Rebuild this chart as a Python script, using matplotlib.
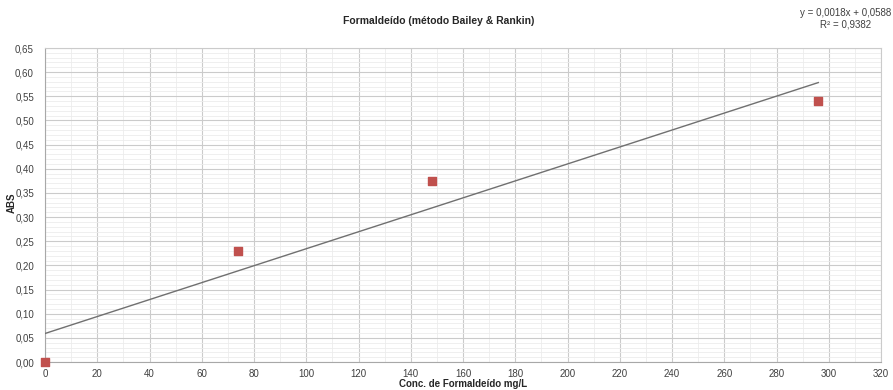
import numpy as np
import matplotlib
matplotlib.use("Agg")
import matplotlib.pyplot as plt
from matplotlib.ticker import MultipleLocator, FuncFormatter

plt.rcParams['font.family'] = ['Liberation Sans', 'DejaVu Sans']

conc = [0, 74, 148, 296]
abs_vals = [0.0, 0.23, 0.375, 0.54]
eq_lines = ["y = 0,0018x + 0,0588", "R² = 0,9382"]

slope, intercept = np.polyfit(conc, abs_vals, 1)

W, H = 893, 390
fig = plt.figure(figsize=(W / 100, H / 100), dpi=100)
ax = fig.add_axes([45 / W, (H - 362) / H, (881 - 45) / W, (362 - 48) / H])

ax.plot([conc[0], conc[-1]], [slope * conc[0] + intercept, slope * conc[-1] + intercept],
        color='#707070', lw=1.0, zorder=3)
ax.scatter(conc, abs_vals, marker='s', s=36, color='#C0504D', zorder=4, clip_on=False)

ax.set_xlim(0, 320)
ax.set_ylim(0, 0.65)
ax.xaxis.set_major_locator(MultipleLocator(20))
ax.xaxis.set_minor_locator(MultipleLocator(10))
ax.yaxis.set_major_locator(MultipleLocator(0.05))
ax.yaxis.set_minor_locator(MultipleLocator(0.01))
ax.yaxis.set_major_formatter(FuncFormatter(lambda v, p: f"{v:.2f}".replace('.', ',')))
ax.grid(which='major', color='#cbcbcb', lw=0.8)
ax.grid(which='minor', color='#ececec', lw=0.6)
ax.set_axisbelow(True)
ax.tick_params(which='both', length=0, labelsize=7, colors='#404040')
ax.tick_params(axis='x', pad=5)
ax.tick_params(axis='y', pad=8)
for s in ax.spines.values():
    s.set_color('#cbcbcb')
    s.set_linewidth(0.8)
ax.spines['left'].set_color('#a8a8a8')
ax.spines['bottom'].set_color('#a8a8a8')

fig.text(439 / W, 1 - 21 / H, 'Formaldeído (método Bailey & Rankin)', ha='center', va='center',
         fontsize=7.5, fontweight='bold', color='#262626')
fig.text(12 / W, 1 - 203 / H, 'ABS', rotation=90, ha='center', va='center',
         fontsize=7, fontweight='bold', color='#262626')
fig.text(463 / W, 1 - 389 / H, 'Conc. de Formaldeído mg/L', ha='center', va='bottom',
         fontsize=7, fontweight='bold', color='#262626')
fig.text(846 / W, 1 - 19 / H, '\n'.join(eq_lines),
         ha='center', va='center', fontsize=7, color='#404040', linespacing=1.15)

fig.savefig('out.png', dpi=100)
